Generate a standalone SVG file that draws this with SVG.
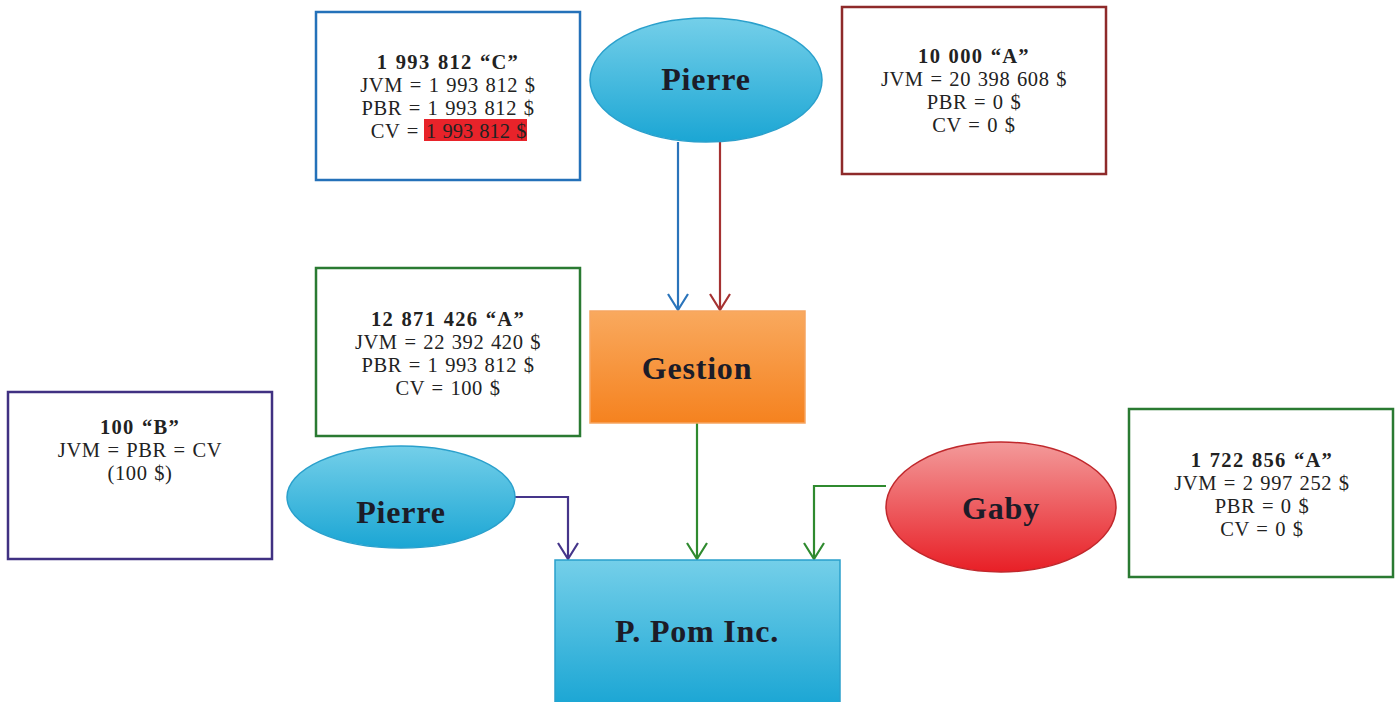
<svg xmlns="http://www.w3.org/2000/svg" width="1395" height="702" viewBox="0 0 1395 702">
  <style>
    .info { fill: #ffffff; stroke-width: 2.5; }
    .txt { font-family: "Liberation Serif", "Times New Roman", serif; font-size: 20.5px; fill: #222222; text-anchor: middle; letter-spacing: 0.6px; word-spacing: 1px; }
    .ttl { font-weight: bold; letter-spacing: 1.3px; }
    .lbl { font-family: "Liberation Serif", "Times New Roman", serif; font-size: 32px; font-weight: bold; fill: #1c1c28; text-anchor: middle; letter-spacing: 0.8px; }
    .conn { fill: none; stroke-width: 2.2; }
  </style>
  <defs>
    <linearGradient id="gBlue" x1="0" y1="0" x2="0" y2="1">
      <stop offset="0" stop-color="#74cfe9"/>
      <stop offset="1" stop-color="#1ba6d4"/>
    </linearGradient>
    <linearGradient id="gOrange" x1="0" y1="0" x2="0" y2="1">
      <stop offset="0" stop-color="#f9a95e"/>
      <stop offset="1" stop-color="#f5821f"/>
    </linearGradient>
    <linearGradient id="gRed" x1="0" y1="0" x2="0" y2="1">
      <stop offset="0" stop-color="#f39a9a"/>
      <stop offset="1" stop-color="#e81f26"/>
    </linearGradient>
  </defs>

  <rect width="1395" height="702" fill="#ffffff"/>

  <!-- share info boxes -->
  <g id="box-c">
    <rect class="info" x="316" y="12" width="264" height="168" stroke="#2471b9"/>
    <text class="txt ttl" x="448" y="69">1 993 812 “C”</text>
    <text class="txt" x="448" y="92">JVM = 1 993 812 $</text>
    <text class="txt" x="448" y="115">PBR = 1 993 812 $</text>
    <text class="txt" x="419" y="138" style="text-anchor:end">CV =</text>
    <rect x="424" y="119" width="103" height="22" fill="#e8232a"/>
    <text class="txt" x="426" y="138" style="text-anchor:start;letter-spacing:0" fill="#5a1010">1 993 812 $</text>
  </g>

  <g id="box-a-pierre">
    <rect class="info" x="842" y="7" width="264" height="167" stroke="#8e2a2a"/>
    <text class="txt ttl" x="974" y="63">10 000 “A”</text>
    <text class="txt" x="974" y="86">JVM = 20 398 608 $</text>
    <text class="txt" x="974" y="109">PBR = 0 $</text>
    <text class="txt" x="974" y="132">CV = 0 $</text>
  </g>

  <g id="box-a-gestion">
    <rect class="info" x="316" y="268" width="264" height="168" stroke="#2a7a32"/>
    <text class="txt ttl" x="448" y="326">12 871 426 “A”</text>
    <text class="txt" x="448" y="349">JVM = 22 392 420 $</text>
    <text class="txt" x="448" y="372">PBR = 1 993 812 $</text>
    <text class="txt" x="448" y="395">CV = 100 $</text>
  </g>

  <g id="box-b">
    <rect class="info" x="8" y="392" width="264" height="167" stroke="#403182"/>
    <text class="txt ttl" x="140" y="434">100 “B”</text>
    <text class="txt" x="140" y="457">JVM = PBR = CV</text>
    <text class="txt" x="140" y="480">(100 $)</text>
  </g>

  <g id="box-a-gaby">
    <rect class="info" x="1129" y="409" width="264" height="168" stroke="#2a7a32"/>
    <text class="txt ttl" x="1262" y="467">1 722 856 “A”</text>
    <text class="txt" x="1262" y="490">JVM = 2 997 252 $</text>
    <text class="txt" x="1262" y="513">PBR = 0 $</text>
    <text class="txt" x="1262" y="536">CV = 0 $</text>
  </g>

  <!-- connectors: shafts plus open V arrowheads -->
  <g id="connectors">
    <path class="conn" d="M678,142 V310" stroke="#2a74bb"/>
    <path class="conn" d="M668,294 L678,310 L688,294" stroke="#2a74bb"/>
    <path class="conn" d="M720,142 V310" stroke="#a53232"/>
    <path class="conn" d="M710,294 L720,310 L730,294" stroke="#a53232"/>
    <path class="conn" d="M697,423 V559" stroke="#2f8a2f"/>
    <path class="conn" d="M687,543 L697,559 L707,543" stroke="#2f8a2f"/>
    <path class="conn" d="M515,497 H568 V559" stroke="#45358a"/>
    <path class="conn" d="M558,543 L568,559 L578,543" stroke="#45358a"/>
    <path class="conn" d="M886,486 H814 V559" stroke="#2f8a2f"/>
    <path class="conn" d="M804,543 L814,559 L824,543" stroke="#2f8a2f"/>
  </g>

  <!-- entities -->
  <g id="pierre-top">
    <ellipse cx="706" cy="80" rx="116" ry="62" fill="url(#gBlue)" stroke="#2aa0cc" stroke-width="1.5"/>
    <text class="lbl" x="706" y="90">Pierre</text>
  </g>

  <g id="gestion">
    <rect x="590" y="311" width="215" height="112" fill="url(#gOrange)" stroke="#f6a560" stroke-width="1.5"/>
    <text class="lbl" x="697" y="379">Gestion</text>
  </g>

  <g id="pierre-bottom">
    <ellipse cx="401" cy="497" rx="114" ry="51" fill="url(#gBlue)" stroke="#2aa0cc" stroke-width="1.5"/>
    <text class="lbl" x="401" y="523">Pierre</text>
  </g>

  <g id="gaby">
    <ellipse cx="1001" cy="507" rx="115" ry="65" fill="url(#gRed)" stroke="#c0282c" stroke-width="1.5"/>
    <text class="lbl" x="1001" y="519">Gaby</text>
  </g>

  <g id="ppom">
    <rect x="555" y="560" width="285" height="145" fill="url(#gBlue)" stroke="#2aa0cc" stroke-width="1.5"/>
    <text class="lbl" x="697" y="642">P. Pom Inc.</text>
  </g>
</svg>
